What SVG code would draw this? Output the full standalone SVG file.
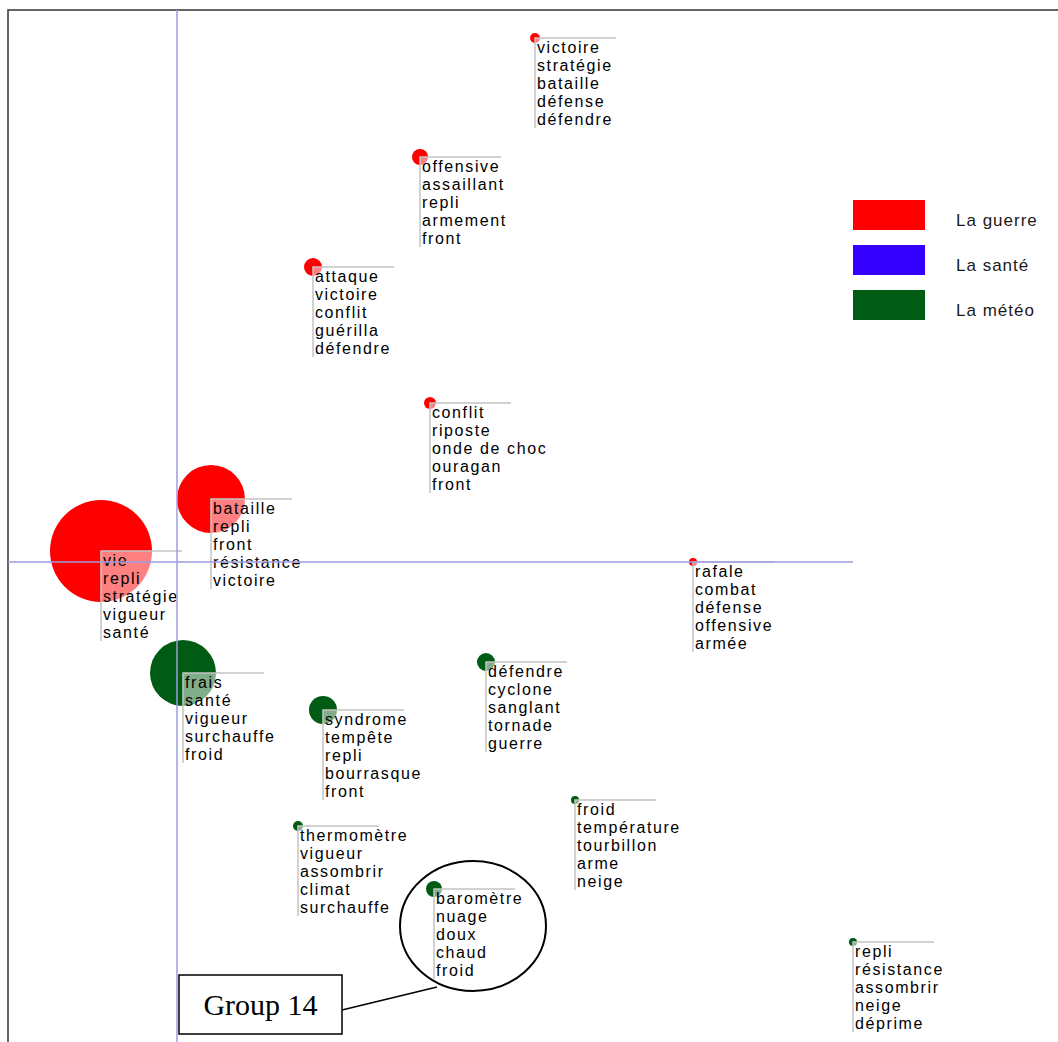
<svg xmlns="http://www.w3.org/2000/svg" width="1058" height="1042" viewBox="0 0 1058 1042">
<style>
.lbl{font-family:"Liberation Sans",Arial,sans-serif;font-size:16px;letter-spacing:1.6px;fill:#000}
.box{fill:#fff;fill-opacity:0.5}
.edge{stroke:#c4c4c4;stroke-width:1.5;fill:none}
.war{fill:#ff0000}
.met{fill:#005c14}
.axis{stroke:#9c9ce0;stroke-width:1.5}
.leg{font-family:"Liberation Sans",Arial,sans-serif;font-size:17px;letter-spacing:1px;fill:#1a1a1a}
</style>
<defs>
<g id="lbox"><rect class="box" x="0" y="0" width="81" height="90"/><path class="edge" d="M81,0H0V90"/></g>
</defs>
<rect x="0" y="0" width="1058" height="1042" fill="#fff"/>
<path d="M8,1042V10H1058" stroke="#333" stroke-width="1.5" fill="none"/>

<g id="n1" transform="translate(535,38)"><circle class="war" r="5"/><use href="#lbox"/>
<text class="lbl" x="2" y="15"><tspan x="2">victoire</tspan><tspan x="2" dy="18">stratégie</tspan><tspan x="2" dy="18">bataille</tspan><tspan x="2" dy="18">défense</tspan><tspan x="2" dy="18">défendre</tspan></text></g>

<g id="n2" transform="translate(420,157)"><circle class="war" r="8"/><use href="#lbox"/>
<text class="lbl" x="2" y="15"><tspan x="2">offensive</tspan><tspan x="2" dy="18">assaillant</tspan><tspan x="2" dy="18">repli</tspan><tspan x="2" dy="18">armement</tspan><tspan x="2" dy="18">front</tspan></text></g>

<g id="n3" transform="translate(313,267)"><circle class="war" r="9"/><use href="#lbox"/>
<text class="lbl" x="2" y="15"><tspan x="2">attaque</tspan><tspan x="2" dy="18">victoire</tspan><tspan x="2" dy="18">conflit</tspan><tspan x="2" dy="18">guérilla</tspan><tspan x="2" dy="18">défendre</tspan></text></g>

<g id="n4" transform="translate(430,403)"><circle class="war" r="6"/><use href="#lbox"/>
<text class="lbl" x="2" y="15"><tspan x="2">conflit</tspan><tspan x="2" dy="18">riposte</tspan><tspan x="2" dy="18">onde de choc</tspan><tspan x="2" dy="18">ouragan</tspan><tspan x="2" dy="18">front</tspan></text></g>

<g id="n5" transform="translate(211,499)"><circle class="war" r="34"/><use href="#lbox"/>
<text class="lbl" x="2" y="15"><tspan x="2">bataille</tspan><tspan x="2" dy="18">repli</tspan><tspan x="2" dy="18">front</tspan><tspan x="2" dy="18">résistance</tspan><tspan x="2" dy="18">victoire</tspan></text></g>

<g id="n6" transform="translate(101,551)"><circle class="war" r="51"/><use href="#lbox"/>
<text class="lbl" x="2" y="15"><tspan x="2">vie</tspan><tspan x="2" dy="18">repli</tspan><tspan x="2" dy="18">stratégie</tspan><tspan x="2" dy="18">vigueur</tspan><tspan x="2" dy="18">santé</tspan></text></g>

<g id="n7" transform="translate(183,673)"><circle class="met" r="33"/><use href="#lbox"/>
<text class="lbl" x="2" y="15"><tspan x="2">frais</tspan><tspan x="2" dy="18">santé</tspan><tspan x="2" dy="18">vigueur</tspan><tspan x="2" dy="18">surchauffe</tspan><tspan x="2" dy="18">froid</tspan></text></g>

<g id="n8" transform="translate(693,562)"><circle class="war" r="4"/><use href="#lbox"/>
<text class="lbl" x="2" y="15"><tspan x="2">rafale</tspan><tspan x="2" dy="18">combat</tspan><tspan x="2" dy="18">défense</tspan><tspan x="2" dy="18">offensive</tspan><tspan x="2" dy="18">armée</tspan></text></g>

<g id="n9" transform="translate(486,662)"><circle class="met" r="9"/><use href="#lbox"/>
<text class="lbl" x="2" y="15"><tspan x="2">défendre</tspan><tspan x="2" dy="18">cyclone</tspan><tspan x="2" dy="18">sanglant</tspan><tspan x="2" dy="18">tornade</tspan><tspan x="2" dy="18">guerre</tspan></text></g>

<g id="n10" transform="translate(323,710)"><circle class="met" r="14"/><use href="#lbox"/>
<text class="lbl" x="2" y="15"><tspan x="2">syndrome</tspan><tspan x="2" dy="18">tempête</tspan><tspan x="2" dy="18">repli</tspan><tspan x="2" dy="18">bourrasque</tspan><tspan x="2" dy="18">front</tspan></text></g>

<g id="n11" transform="translate(575,800)"><circle class="met" r="4"/><use href="#lbox"/>
<text class="lbl" x="2" y="15"><tspan x="2">froid</tspan><tspan x="2" dy="18">température</tspan><tspan x="2" dy="18">tourbillon</tspan><tspan x="2" dy="18">arme</tspan><tspan x="2" dy="18">neige</tspan></text></g>

<g id="n12" transform="translate(298,826)"><circle class="met" r="5"/><use href="#lbox"/>
<text class="lbl" x="2" y="15"><tspan x="2">thermomètre</tspan><tspan x="2" dy="18">vigueur</tspan><tspan x="2" dy="18">assombrir</tspan><tspan x="2" dy="18">climat</tspan><tspan x="2" dy="18">surchauffe</tspan></text></g>

<g id="n13" transform="translate(434,889)"><circle class="met" r="8"/><use href="#lbox"/>
<text class="lbl" x="2" y="15"><tspan x="2">baromètre</tspan><tspan x="2" dy="18">nuage</tspan><tspan x="2" dy="18">doux</tspan><tspan x="2" dy="18">chaud</tspan><tspan x="2" dy="18">froid</tspan></text></g>

<g id="n14" transform="translate(853,942)"><circle class="met" r="4"/><use href="#lbox"/>
<text class="lbl" x="2" y="15"><tspan x="2">repli</tspan><tspan x="2" dy="18">résistance</tspan><tspan x="2" dy="18">assombrir</tspan><tspan x="2" dy="18">neige</tspan><tspan x="2" dy="18">déprime</tspan></text></g>

<g id="axes">
<line class="axis" x1="177" y1="10" x2="177" y2="1042"/>
<line class="axis" x1="8" y1="562" x2="853" y2="562"/>
</g>

<g id="legend">
<rect x="853" y="200" width="72" height="30" fill="#ff0000"/>
<rect x="853" y="245" width="72" height="30" fill="#3300ff"/>
<rect x="853" y="290" width="72" height="30" fill="#005c14"/>
<text class="leg" x="956" y="226">La guerre</text>
<text class="leg" x="956" y="271">La santé</text>
<text class="leg" x="956" y="316">La météo</text>
</g>

<g id="highlight">
<ellipse cx="473" cy="926" rx="73" ry="65" fill="none" stroke="#000" stroke-width="2"/>
</g>

<g id="callout">
<rect x="179" y="975" width="163" height="59" fill="#fff" stroke="#000" stroke-width="1.5"/>
<text x="260.5" y="1015" text-anchor="middle" font-family="Liberation Serif,'Times New Roman',serif" font-size="30" fill="#000">Group 14</text>
</g>

<g id="connectors">
<line x1="342" y1="1010" x2="437" y2="987" stroke="#000" stroke-width="1.5"/>
</g>
</svg>
